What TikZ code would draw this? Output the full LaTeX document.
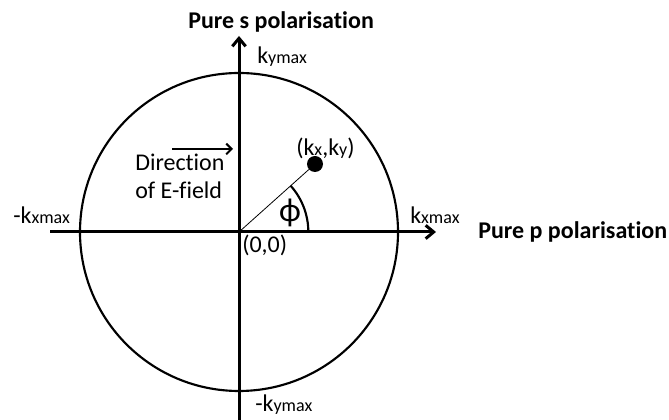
\documentclass[tikz,border=0pt]{standalone}
\usepackage{fontspec}
\setmainfont[Ligatures=NoCommon]{Carlito}
\usetikzlibrary{arrows.meta}
\newcommand{\smallsub}[1]{{\fontsize{13.5}{13.5}\selectfont #1}}

\begin{document}
\begin{tikzpicture}[x=0.75pt,y=-0.75pt,font=\fontsize{18}{21}\selectfont,
  lbl/.style={inner sep=0pt,anchor=west},
  axis/.style={line width=2.25pt,-{Straight Barb[length=6pt,width=10pt]}}]
\useasboundingbox (0,0) rectangle (669,420);
% axes and circle
\coordinate (o) at (239,232);
\coordinate (xl) at (50,232);
\coordinate (xr) at (436,232);
\coordinate (yb) at (239,420);
\coordinate (yt) at (239,36);
\draw[line width=1.6pt] (o) circle [radius=119.25pt];
\draw[axis] (xl) -- (xr);
\draw[axis] (yb) -- (yt);
% point and angle
\node[circle,fill,inner sep=0pt,minimum size=12pt] (pt) at (315,164) {};
\draw[line width=0.6pt] (o) -- (pt);
\draw[line width=1.6pt] ([shift={(0:52pt)}]o) arc[start angle=0,end angle=41.8,radius=52pt];
\node (phi) at (290,213) {\fontsize{25}{25}\selectfont ϕ};
% labels
\node[lbl] (kxy) at (296,148) {(k\smallsub{x},k\smallsub{y})};
\node[lbl] (orig) at (242,245) {(0,0)};
\node[lbl] (kxp) at (410,215) {k\smallsub{xmax}};
\node[lbl] (kxm) at (13,215) {-k\smallsub{xmax}};
\node[lbl] (kyp) at (257,57) {k\smallsub{ymax}};
\node[lbl] (kym) at (255,405) {-k\smallsub{ymax}};
\node[lbl,font=\fontsize{18}{21}\selectfont\bfseries] (spol) at (188,22) {Pure s polarisation};
\node[lbl,font=\fontsize{18}{21}\selectfont\bfseries] (ppol) at (478,232) {Pure p polarisation};
\node[lbl,align=left] (efield) at (135,176) {Direction\\of E-field};
\coordinate (ea) at (172,149);
\coordinate (eb) at (233,149);
\draw[line width=1.5pt,-{Straight Barb[length=4pt,width=8pt]}] (ea) -- (eb);
\end{tikzpicture}
\end{document}
